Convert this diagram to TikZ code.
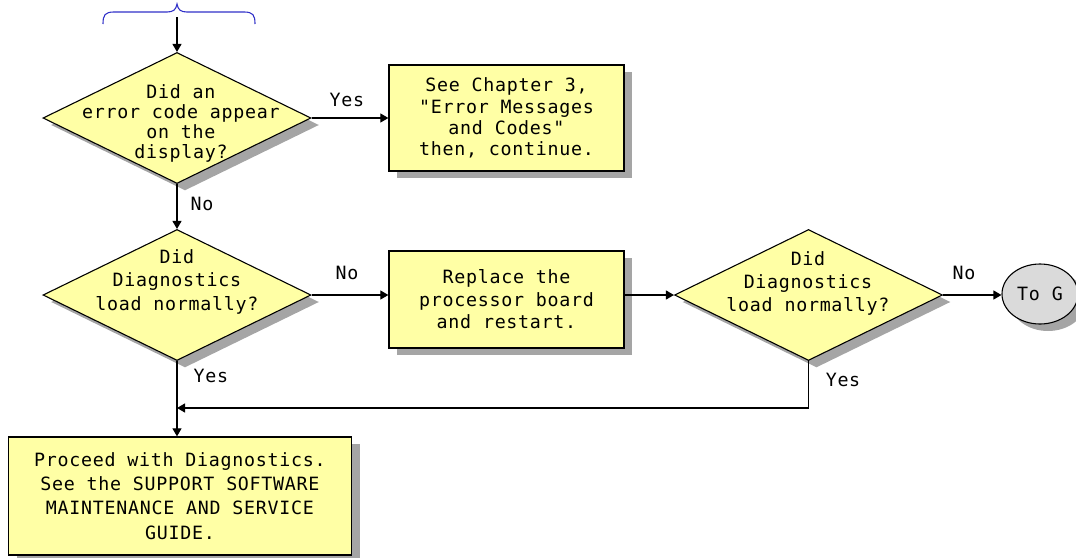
\documentclass[tikz,border=0pt]{standalone}
\usepackage{fontspec}
\newfontfamily\monofont[LetterSpace=4]{DejaVu Sans Mono}
\usetikzlibrary{shapes.geometric,shadows,arrows.meta}
\definecolor{boxyellow}{RGB}{255,255,165}
\definecolor{shadowgray}{RGB}{165,165,165}
\definecolor{ovalgray}{RGB}{218,218,218}
\definecolor{braceblue}{RGB}{48,48,200}
\tikzset{
  fc/.style={font=\monofont\fontsize{18.3}{21}\selectfont},
  shad/.style={drop shadow={shadow xshift=8pt,shadow yshift=-7pt,fill=shadowgray,opacity=1}},
  dia/.style={diamond,draw=black,line width=1.1pt,fill=boxyellow,shad,inner sep=0pt,minimum width=268pt,minimum height=131pt},
  procbox/.style={rectangle,draw=black,line width=1.3pt,fill=boxyellow,shad,inner sep=0pt,align=center,fc},
  txt/.style={align=center,inner sep=0pt,fc},
  lbl/.style={inner sep=0pt,fc},
  arr/.style={line width=1.2pt,-{Triangle[length=8pt,width=9pt]}},
}
\begin{document}
\begin{tikzpicture}[x=1pt,y=-1pt]
\useasboundingbox (0,0) rectangle (1076,557);
% brace
\draw[braceblue,line width=1.1pt] (103,24) .. controls (103,15) and (105,12) .. (114,12) -- (167,12) .. controls (173,12) and (176,10) .. (177,4) .. controls (178,10) and (181,12) .. (187,12) -- (244,12) .. controls (253,12) and (255,15) .. (255,24);
\coordinate (bt) at (177,17);
% shapes
\node[dia] (d1) at (177,118) {};
\node[txt,font=\monofont\fontsize{18.3}{20}\selectfont] (t1) at (181,123) {Did an\\error code appear\\on the\\display?};
\node[procbox,minimum width=235pt,minimum height=106pt,font=\monofont\fontsize{18.3}{21.3}\selectfont] (b1) at (506.5,118) {See Chapter 3,\\"Error Messages\\and Codes"\\then, continue.};
\node[dia] (d2) at (177,295) {};
\node[txt,font=\monofont\fontsize{18.3}{23.5}\selectfont] (t2) at (177,281.5) {Did\\Diagnostics\\load normally?};
\node[procbox,minimum width=235pt,minimum height=97pt,font=\monofont\fontsize{18.3}{22.5}\selectfont] (b2) at (506.5,299.5) {Replace the\\processor board\\and restart.};
\node[dia] (d3) at (808.5,295) {};
\node[txt,font=\monofont\fontsize{18.3}{23}\selectfont] (t3) at (808,283) {Did\\Diagnostics\\load normally?};
\node[ellipse,draw=black,line width=1.1pt,fill=ovalgray,shad,inner sep=0pt,minimum width=76pt,minimum height=60pt,fc] (g) at (1040,294) {To G};
\node[procbox,minimum width=343pt,minimum height=118pt,font=\monofont\fontsize{18.3}{24.3}\selectfont] (b3) at (180,496) {Proceed with Diagnostics.\\See the SUPPORT SOFTWARE\\MAINTENANCE AND SERVICE\\GUIDE.};
% connectors
\draw[arr] (bt) -- (d1.north);
\draw[arr] (d1.east) -- (d1.east -| b1.west);
\draw[arr] (d1.south) -- (d2.north);
\draw[arr] (d2.east) -- (d2.east -| b2.west);
\draw[arr] (d2.east -| b2.east) -- (d3.west);
\draw[arr] (d3.east) -- (d3.east -| g.west);
\draw[arr] (d2.south) -- (d2.south |- b3.north);
\coordinate (j) at (177,408);
\draw[arr] (d3.south) |- (j);
% labels
\node[lbl] (l1) at (347,100) {Yes};
\node[lbl] (l2) at (202,204) {No};
\node[lbl] (l3) at (347,273) {No};
\node[lbl] (l4) at (211,376) {Yes};
\node[lbl] (l5) at (964,273) {No};
\node[lbl] (l6) at (843,380) {Yes};
\end{tikzpicture}
\end{document}
